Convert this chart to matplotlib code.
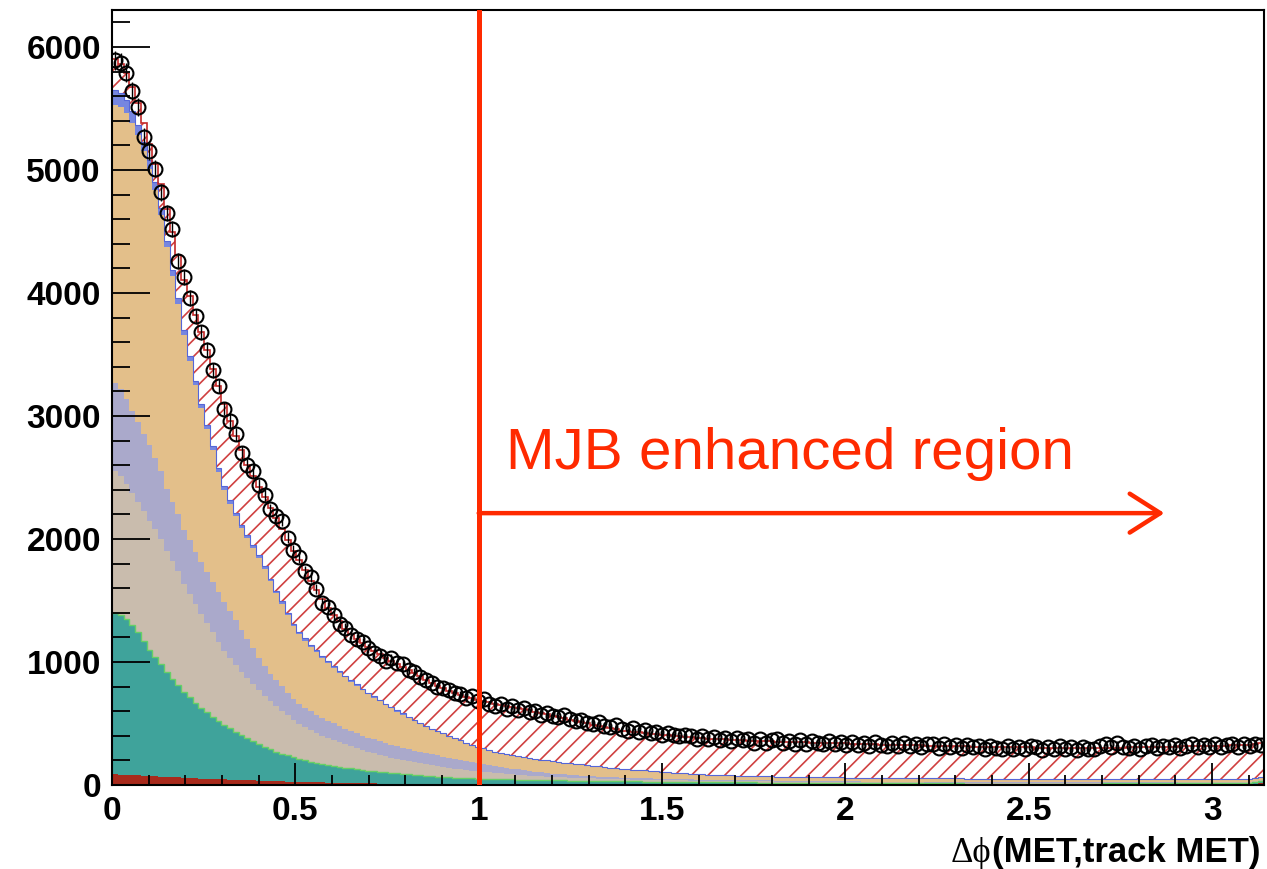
import numpy as np
import matplotlib
matplotlib.use("Agg")
import matplotlib.pyplot as plt
from matplotlib.ticker import MultipleLocator

# ---------------- data ----------------
x_range = (0.0, np.pi)
n_bins = 200

red = [
86,84,82,80,78,76,73,71,68,65,
63,61,58,56,54,52,50,49,47,45,
44,42,40,39,37,36,34,33,31,30,
28,27,25,24,23,22,21,20,19,18,
17,16,15,14,14,13,12,12,11,10,
10,9,9,8,8,8,7,7,7,6,
6,6,5,5,5,5,4,4,4,4,
4,3,3,3,3,3,3,3,3,3,
3,3,2,2,2,2,2,2,2,2,
2,2,2,2,2,2,2,2,2,2,
2,2,2,2,2,2,2,2,2,2,
2,2,2,2,2,2,2,2,2,2,
2,2,2,2,2,2,2,2,2,2,
2,2,2,2,2,2,2,2,2,2,
2,2,2,2,2,2,2,2,2,2,
2,2,2,2,2,2,2,2,2,2,
2,2,2,2,2,2,2,2,2,2,
2,2,2,2,2,2,2,2,2,2,
2,2,2,2,2,2,2,2,2,2,
2,2,2,2,3,3,3,4,10,16]

teal = [
1314,1296,1268,1220,1162,1094,1027,969,912,855,
797,749,702,659,616,578,540,506,473,445,
416,388,365,341,318,294,276,257,239,225,
212,198,187,176,167,158,149,142,136,130,
124,119,114,109,103,99,95,90,87,84,
80,77,73,70,67,64,62,59,56,54,
52,50,49,47,45,44,44,43,42,41,
40,40,39,38,37,36,35,35,34,33,
33,32,31,31,30,30,29,29,28,28,
27,27,26,26,25,25,24,24,23,23,
22,22,22,21,21,21,20,20,20,19,
19,19,18,18,18,17,17,17,16,16,
16,16,15,15,15,15,14,14,14,14,
13,13,13,13,13,12,12,12,12,12,
12,11,11,11,11,11,11,11,10,10,
10,10,10,10,10,10,10,10,10,10,
10,10,10,10,10,10,10,10,10,10,
10,10,11,11,11,11,12,12,12,12,
12,13,13,13,13,14,14,14,14,14,
15,15,15,15,15,16,16,16,16,16]

grey = [
1150,1130,1100,1070,1060,1055,1050,1040,1020,980,
960,930,870,840,800,760,725,685,640,600,
570,545,515,490,465,440,415,390,370,350,
325,300,282,268,255,243,232,222,212,202,
190,180,170,160,152,145,138,131,125,120,
114,108,103,98,93,89,85,81,77,73,
69,65,62,59,56,53,50,47,44,41,
39,37,35,33,31,29,27,26,25,24,
23,22,21,20,19,18,17,17,16,16,
15,15,14,14,13,13,13,12,12,12,
12,11,11,11,11,11,10,10,10,10,
10,10,10,10,10,9,9,9,9,9,
9,9,9,9,9,9,9,8,8,8,
8,8,8,8,8,8,8,8,7,7,
7,7,7,7,7,7,7,7,7,7,
6,6,6,6,6,6,6,6,6,6,
6,6,6,6,6,6,6,6,6,6,
5,5,5,5,5,5,5,5,5,5,
5,5,5,5,5,5,5,5,5,5,
5,5,5,5,5,5,5,5,5,5]

lavender = [
720,710,690,670,650,630,610,580,550,510,
480,460,445,435,428,422,418,414,408,400,
385,365,340,315,290,265,245,225,210,198,
185,175,167,160,155,150,145,140,135,131,
128,125,122,119,116,113,110,107,104,101,
98,96,94,92,90,88,86,84,82,80,
77,74,71,68,65,61,57,53,50,47,
44,41,38,35,32,30,28,26,24,22,
20,19,18,17,16,15,14,14,13,13,
12,12,11,11,11,10,10,10,9,9,
9,9,9,8,8,8,8,8,8,7,
7,7,7,7,7,7,7,6,6,6,
6,6,6,6,6,6,6,6,6,6,
5,5,5,5,5,5,5,5,5,5,
5,5,5,5,5,5,5,5,5,5,
4,4,4,4,4,4,4,4,4,4,
4,4,4,4,4,4,4,4,4,4,
4,4,4,4,4,4,4,4,4,4,
3,3,3,3,3,3,3,3,3,3,
3,3,3,3,3,3,3,3,3,3]

orange = [
2260,2290,2320,2340,2330,2300,2250,2180,2080,1960,
1840,1710,1580,1460,1350,1250,1160,1070,980,910,
870,845,830,825,820,810,785,750,710,670,
630,590,565,545,525,505,485,465,448,432,
416,400,385,368,352,338,324,310,295,282,
268,254,240,226,212,200,190,180,170,160,
150,141,133,125,118,113,109,106,104,102,
100,99,98,97,96,95,93,92,90,88,
87,85,82,80,78,76,74,72,69,67,
64,62,60,58,55,52,50,48,46,44,
42,40,39,37,36,35,34,33,32,31,
30,30,29,29,28,28,28,28,27,27,
27,27,26,26,26,26,26,26,26,26,
26,26,25,25,25,25,25,25,25,25,
24,24,24,24,24,24,24,24,24,24,
23,23,23,23,23,23,23,23,23,23,
22,22,22,22,22,22,22,22,22,22,
21,21,21,21,21,21,21,21,21,21,
21,21,20,20,20,20,20,20,20,20,
20,20,20,20,20,20,20,20,20,20]

blue = [
120,115,105,95,85,75,68,62,57,52,
48,45,42,40,38,36,34,32,30,29,
28,27,26,25,24,23,22,21,20,20,
19,19,18,18,17,17,16,16,15,15,
15,14,14,14,13,13,13,12,12,12,
12,11,11,11,10,10,10,10,9,9,
9,9,9,8,8,8,8,8,8,7,
7,7,7,7,7,7,7,6,6,6,
6,6,6,6,6,6,6,6,6,6,
6,6,5,5,5,5,5,5,5,5,
5,5,5,5,5,5,5,5,5,5,
5,5,5,5,5,5,5,5,5,5,
5,5,5,5,4,4,4,4,4,4,
4,4,4,4,4,4,4,4,4,4,
4,4,4,4,4,4,4,4,4,4,
4,4,4,4,4,4,4,4,4,4,
4,4,4,4,3,3,3,3,3,3,
3,3,3,3,3,3,3,3,3,3,
3,3,3,3,3,3,3,3,3,3,
3,3,3,3,3,3,3,3,3,3]

mjb = [
250,240,225,200,175,150,130,150,200,260,
310,350,410,485,534,582,606,629,662,666,
647,628,604,565,556,552,563,579,590,592,
596,596,586,554,518,490,462,435,415,402,
380,371,370,371,370,370,370,370,370,372,
375,378,380,378,372,368,365,365,366,367,
367,370,375,380,385,388,390,392,394,395,
395,392,388,383,378,374,370,365,360,355,
350,345,340,335,330,324,318,312,308,305,
304,303,302,302,302,302,301,300,299,298,
297,296,295,294,293,292,291,290,289,288,
287,286,285,284,284,283,283,282,282,281,
281,280,280,279,279,279,279,278,277,276,
275,274,273,272,271,270,270,269,269,268,
268,268,267,266,265,264,263,262,261,260,
260,259,258,258,257,257,256,256,256,256,
256,256,256,256,256,256,256,256,256,257,
257,257,258,258,258,258,259,259,260,260,
261,262,263,264,265,266,267,268,269,270,
271,272,273,273,274,274,275,276,276,277]

data = [
5890,5870,5790,5640,5510,5270,5150,5010,4820,4650,
4520,4260,4130,3960,3810,3680,3540,3370,3240,3060,
2960,2850,2700,2600,2550,2440,2360,2240,2190,2150,
2010,1910,1850,1740,1690,1590,1480,1450,1380,1310,
1280,1220,1190,1160,1110,1070,1050,1010,1030,990,
980,935,920,880,850,830,800,790,775,750,
740,705,720,680,700,660,640,655,620,640,
610,625,590,600,570,585,560,550,565,535,
520,530,505,495,515,480,470,490,455,440,
465,430,445,420,430,410,425,405,395,410,
395,375,400,370,390,365,385,355,380,365,
375,345,370,340,365,375,345,360,335,365,
335,355,340,330,360,335,350,325,350,325,
345,320,350,325,315,340,320,345,315,335,
310,330,335,300,330,310,325,300,325,305,
320,295,320,300,290,315,295,310,290,315,
305,285,310,295,315,290,305,285,310,295,
290,315,335,310,340,305,300,320,295,315,
325,300,320,305,325,300,320,330,305,325,
310,330,305,325,335,310,330,315,335,325]

y_ticks = [0, 1000, 2000, 3000, 4000, 5000, 6000]
x_ticks = [0, 0.5, 1, 1.5, 2, 2.5, 3]
x_tick_labels = ["0", "0.5", "1", "1.5", "2", "2.5", "3"]
y_max = 6300
cut_value = 1.0
arrow_end = 2.87
arrow_y = 2210
annotation = "MJB enhanced region"
x_label_sym = "\u0394\u03d5"
x_label_txt = "(MET,track MET)"

# ---------------- figure ----------------
W, H = 1267, 869
plt.rcParams["hatch.linewidth"] = 1.2
fig = plt.figure(figsize=(W / 100, H / 100), dpi=100)
ax = fig.add_axes([112 / W, 84 / H, (1264 - 112) / W, (785 - 10) / H])
ax.set_axisbelow(False)

edges = np.linspace(x_range[0], x_range[1], n_bins + 1)
centers = 0.5 * (edges[:-1] + edges[1:])

layers = [
    (red,      "#a82a1c"),
    (teal,     "#3fa39b"),
    (grey,     "#c9bcad"),
    (lavender, "#aaa9cb"),
    (orange,   "#e3bf8a"),
    (blue,     "#7686e0"),
]
cum = np.zeros(n_bins)
tops = []
for vals, col in layers:
    top = cum + np.asarray(vals, float)
    ax.stairs(top, edges, baseline=cum, fill=True, facecolor=col,
              edgecolor="none", linewidth=0, zorder=1)
    tops.append(top)
    cum = top

mjb_top = cum + np.asarray(mjb, float)
ax.stairs(mjb_top, edges, baseline=cum, fill=True, facecolor="white",
          edgecolor="none", linewidth=0, zorder=1)
ax.stairs(mjb_top, edges, baseline=cum, fill=True, facecolor="none",
          edgecolor="#d04040", hatch="//", linewidth=0, zorder=1.1)

# outlines
ax.stairs(tops[1], edges, baseline=None, color="#66d066", lw=1.0, zorder=1.5)
ax.stairs(tops[5], edges, baseline=None, color="#5566d8", lw=0.8, zorder=1.5)
ax.stairs(mjb_top, edges, baseline=None, color="#c42a2a", lw=1.2, zorder=1.6)

# data
d = np.asarray(data, float)
ax.errorbar(centers, d, yerr=np.sqrt(d), fmt="o", mfc="none", mec="black",
            ms=10, mew=1.5, ecolor="black", elinewidth=1.0, capsize=0,
            zorder=3)

ax.set_xlim(*x_range)
ax.set_ylim(0, y_max)

# annotation in red
red_ann = "#ff2a00"
ax.axvline(cut_value, color=red_ann, lw=3.6, zorder=10)
ax.annotate("", xy=(arrow_end, arrow_y), xytext=(cut_value, arrow_y),
            arrowprops=dict(arrowstyle="->,head_length=1.1,head_width=0.7",
                            color=red_ann, lw=3.2, mutation_scale=20,
                            shrinkA=0, shrinkB=0), zorder=10)
ax.text(1.074, 2567, annotation, color=red_ann, fontsize=42,
        family="Liberation Sans", va="baseline", ha="left", zorder=10)

# axes style
for s in ["left", "bottom", "top", "right"]:
    ax.spines[s].set_linewidth(1.5)
    ax.spines[s].set_zorder(5)

ax.set_xticks(x_ticks)
ax.set_xticklabels(x_tick_labels)
ax.set_yticks(y_ticks)
ax.set_yticklabels([str(v) for v in y_ticks])
ax.xaxis.set_minor_locator(MultipleLocator(0.1))
ax.yaxis.set_minor_locator(MultipleLocator(200))
ax.tick_params(axis="both", which="both", direction="in", top=False,
               right=False, width=1.3, colors="black")
ax.tick_params(axis="x", which="major", length=16, pad=8)
ax.tick_params(axis="x", which="minor", length=7)
ax.tick_params(axis="y", which="major", length=27, pad=8)
ax.tick_params(axis="y", which="minor", length=13)
for lab in ax.get_xticklabels() + ax.get_yticklabels():
    lab.set_fontfamily("Liberation Sans")
    lab.set_fontweight("bold")
    lab.set_fontsize(24)

# x-axis title: bold text plus greek symbols in a serif face
t1 = fig.text(1260 / W, 7 / H, x_label_txt, ha="right", va="baseline",
              fontsize=25, fontweight="bold", family="Liberation Sans")
renderer = fig.canvas.get_renderer()
bb = t1.get_window_extent(renderer)
fig.text(bb.x0 / W, 7 / H, x_label_sym, ha="right", va="baseline",
         fontsize=25, family=["Liberation Serif", "DejaVu Serif"])

fig.savefig("out.png", dpi=100)
